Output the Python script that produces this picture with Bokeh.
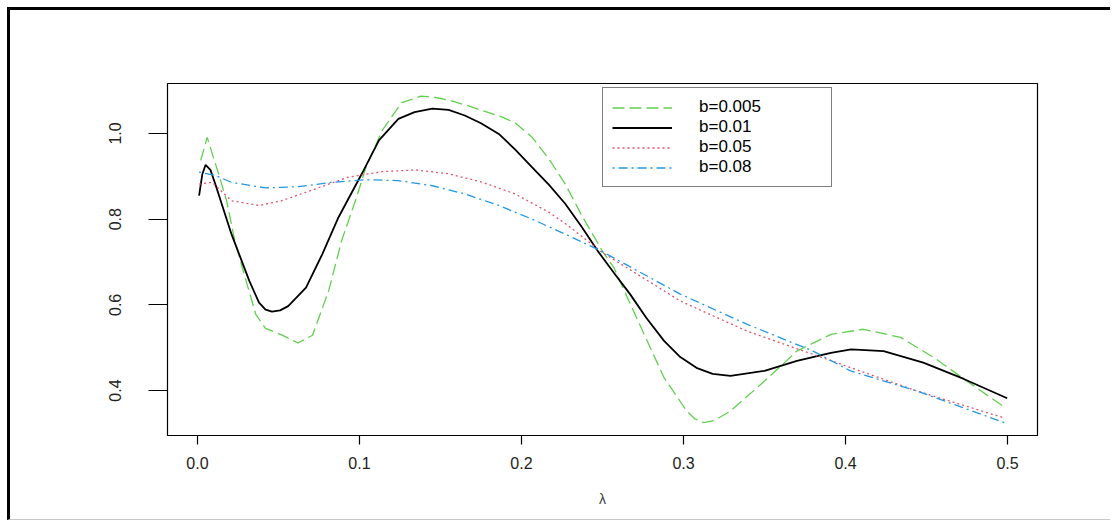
from bokeh.plotting import figure
from bokeh.models import Range1d, FixedTicker, Legend, LegendItem
from bokeh.embed import file_html
from bokeh.resources import INLINE

# b = 0.005 (green, dashed)
x_b005 = [0.002, 0.006, 0.013, 0.018, 0.023, 0.030, 0.036, 0.042, 0.052, 0.062, 0.071, 0.081,
          0.089, 0.0975, 0.104, 0.114, 0.126, 0.138, 0.147, 0.156, 0.166, 0.177, 0.187, 0.196,
          0.2066, 0.217, 0.227, 0.237, 0.25, 0.257, 0.271, 0.288, 0.302, 0.307, 0.3125, 0.319,
          0.329, 0.350, 0.370, 0.391, 0.411, 0.434, 0.4545, 0.475, 0.497]
y_b005 = [0.937, 0.991, 0.906, 0.843, 0.750, 0.656, 0.578, 0.545, 0.530, 0.511, 0.529, 0.633,
          0.750, 0.843, 0.921, 1.007, 1.072, 1.087, 1.084, 1.077, 1.066, 1.052, 1.040, 1.025,
          0.991, 0.940, 0.882, 0.810, 0.725, 0.687, 0.570, 0.430, 0.352, 0.334, 0.325, 0.330,
          0.352, 0.422, 0.492, 0.531, 0.543, 0.524, 0.477, 0.422, 0.364]

# b = 0.01 (black, solid)
x_b01 = [0.001, 0.003, 0.005, 0.008, 0.011, 0.021, 0.032, 0.038, 0.042, 0.046, 0.051, 0.056,
         0.067, 0.077, 0.087, 0.102, 0.112, 0.124, 0.134, 0.145, 0.155, 0.165, 0.175, 0.186,
         0.196, 0.2066, 0.217, 0.227, 0.237, 0.247, 0.257, 0.267, 0.277, 0.288, 0.298, 0.308,
         0.318, 0.329, 0.350, 0.370, 0.391, 0.4035, 0.4235, 0.448, 0.473, 0.4998]
y_b01 = [0.855, 0.905, 0.927, 0.915, 0.882, 0.765, 0.656, 0.605, 0.589, 0.584, 0.587, 0.597,
         0.640, 0.718, 0.804, 0.910, 0.984, 1.034, 1.050, 1.058, 1.055, 1.042, 1.024, 0.999,
         0.963, 0.921, 0.880, 0.836, 0.783, 0.726, 0.675, 0.625, 0.570, 0.516, 0.478, 0.453,
         0.439, 0.434, 0.446, 0.469, 0.488, 0.496, 0.492, 0.465, 0.427, 0.382]

# b = 0.05 (red, dotted)
x_b05 = [0.001, 0.009, 0.021, 0.038, 0.052, 0.073, 0.093, 0.114, 0.1346, 0.155, 0.176, 0.196,
         0.217, 0.227, 0.25, 0.298, 0.339, 0.3825, 0.444, 0.498]
y_b05 = [0.882, 0.886, 0.843, 0.832, 0.843, 0.871, 0.898, 0.911, 0.915, 0.906, 0.886, 0.859,
         0.816, 0.790, 0.722, 0.609, 0.539, 0.481, 0.399, 0.336]

# b = 0.08 (blue, dot-dash)
x_b08 = [0.001, 0.011, 0.021, 0.042, 0.0625, 0.083, 0.104, 0.124, 0.145, 0.165, 0.186, 0.2066,
         0.227, 0.249, 0.298, 0.339, 0.380, 0.403, 0.444, 0.498]
y_b08 = [0.910, 0.902, 0.886, 0.873, 0.876, 0.886, 0.892, 0.890, 0.878, 0.859, 0.832, 0.800,
         0.765, 0.726, 0.625, 0.555, 0.492, 0.446, 0.399, 0.325]

labels = ["b=0.005", "b=0.01", "b=0.05", "b=0.08"]
x_ticks = [0.0, 0.1, 0.2, 0.3, 0.4, 0.5]
x_tick_labels = ["0.0", "0.1", "0.2", "0.3", "0.4", "0.5"]
y_ticks = [0.4, 0.6, 0.8, 1.0]
y_tick_labels = ["0.4", "0.6", "0.8", "1.0"]

FONT = "Liberation Sans"

p = figure(width=1103, height=513, x_range=Range1d(-0.0185, 0.5185),
           y_range=Range1d(0.295, 1.1167), output_backend="svg", toolbar_location=None,
           min_border_left=157, min_border_right=76, min_border_top=73, min_border_bottom=88)
p.styles = {"border-top": "3px solid black", "border-left": "3px solid black",
            "border-bottom": "1px solid #c8c8c8",
            "margin-left": "7px", "margin-top": "7px"}

p.xgrid.visible = False
p.ygrid.visible = False
p.outline_line_color = "black"
p.outline_line_width = 1.2

p.xaxis.ticker = FixedTicker(ticks=x_ticks)
p.xaxis.major_label_overrides = {t: l for t, l in zip(x_ticks, x_tick_labels)}
p.yaxis.ticker = FixedTicker(ticks=y_ticks)
p.yaxis.major_label_overrides = {t: l for t, l in zip(y_ticks, y_tick_labels)}
for ax in (p.xaxis, p.yaxis):
    ax.axis_line_color = None
    ax.minor_tick_line_color = None
    ax.major_tick_in = 0
    ax.major_tick_line_color = "black"
    ax.major_tick_line_width = 1.2
    ax.major_label_text_font = FONT
    ax.major_label_text_font_size = "16px"
    ax.major_label_text_color = "#222222"
p.xaxis.major_tick_out = 9
p.yaxis.major_tick_out = 19
p.xaxis.major_label_standoff = 12
p.yaxis.major_label_standoff = 27
p.yaxis.major_label_orientation = "vertical"
p.xaxis.axis_label = "λ"
p.xaxis.axis_label_text_font = FONT
p.xaxis.axis_label_text_font_style = "normal"
p.xaxis.axis_label_text_font_size = "14px"
p.xaxis.axis_label_standoff = 19

r1 = p.line(x_b005, y_b005, line_color="#61D04F", line_width=1.3, line_dash="12 5")
r2 = p.line(x_b01, y_b01, line_color="black", line_width=1.8)
r3 = p.line(x_b05, y_b05, line_color="#DF536B", line_width=1.3, line_dash="2 3")
r4 = p.line(x_b08, y_b08, line_color="#2297E6", line_width=1.3, line_dash="2 4 9 4")

legend = Legend(items=[LegendItem(label=labels[0], renderers=[r1]),
                       LegendItem(label=labels[1], renderers=[r2]),
                       LegendItem(label=labels[2], renderers=[r3]),
                       LegendItem(label=labels[3], renderers=[r4])],
                location=(435, 248))
legend.label_text_font = FONT
legend.label_text_font_size = "17px"
legend.label_text_color = "black"
legend.glyph_width = 60
legend.glyph_height = 19
legend.label_height = 19
legend.label_width = 123
legend.label_standoff = 27
legend.spacing = 0
legend.padding = 9
legend.margin = 0
legend.border_line_color = "black"
legend.border_line_width = 1.2
legend.background_fill_alpha = 1.0
p.add_layout(legend)

open("out.html", "w").write(file_html(p, INLINE))
